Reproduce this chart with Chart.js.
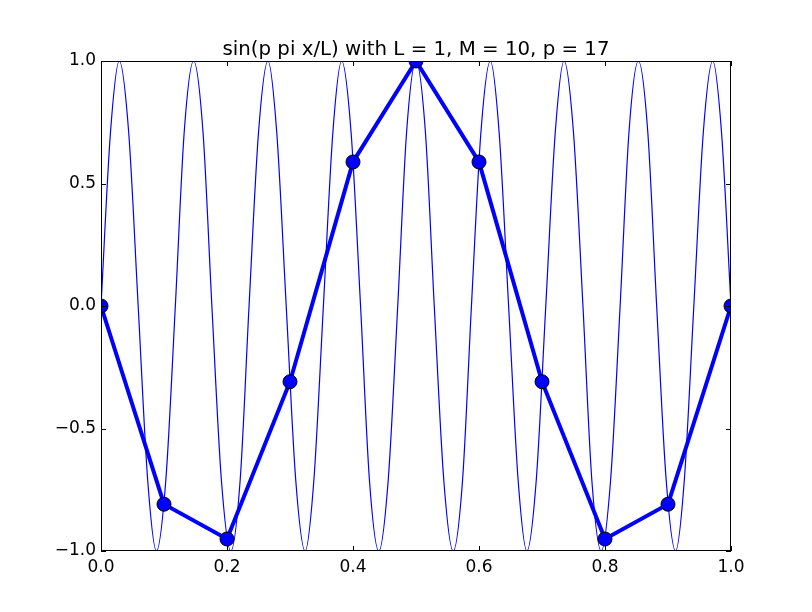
<!DOCTYPE html>
<html>
<head>
<meta charset="utf-8">
<script src="https://cdn.jsdelivr.net/npm/chart.js@4/dist/chart.umd.min.js"></script>
<style>
html,body{margin:0;padding:0;background:#fff;}
#c{display:block;}
</style>
</head>
<body>
<canvas id="c" width="812" height="612"></canvas>
<script>
const titleText = 'sin(p pi x/L) with L = 1, M = 10, p = 17';

// sampled points (M = 10)
const sampleX = [0.0, 0.1, 0.2, 0.3, 0.4, 0.5, 0.6, 0.7, 0.8, 0.9, 1.0];
const sampleY = [0.0, -0.809, -0.951, -0.309, 0.588, 1.0, 0.588, -0.309, -0.951, -0.809, 0.0];

// fine curve (zeros, peaks and half-way points)
const curveX = [0.000,0.015,0.029,0.044,0.059,0.074,0.088,0.103,0.118,0.132,0.147,0.162,0.176,0.191,0.206,0.221,0.235,0.250,0.265,0.279,0.294,0.309,0.324,0.338,0.353,0.368,0.382,0.397,0.412,0.426,0.441,0.456,0.471,0.485,0.500,0.515,0.529,0.544,0.559,0.574,0.588,0.603,0.618,0.632,0.647,0.662,0.676,0.691,0.706,0.721,0.735,0.750,0.765,0.779,0.794,0.809,0.824,0.838,0.853,0.868,0.882,0.897,0.912,0.926,0.941,0.956,0.971,0.985,1.000];
const curveY = [0,0.707,1,0.707,0,-0.707,-1,-0.707,
                0,0.707,1,0.707,0,-0.707,-1,-0.707,
                0,0.707,1,0.707,0,-0.707,-1,-0.707,
                0,0.707,1,0.707,0,-0.707,-1,-0.707,
                0,0.707,1,0.707,0,-0.707,-1,-0.707,
                0,0.707,1,0.707,0,-0.707,-1,-0.707,
                0,0.707,1,0.707,0,-0.707,-1,-0.707,
                0,0.707,1,0.707,0,-0.707,-1,-0.707,
                0,0.707,1,0.707,0];

const xTicks = [0.0, 0.2, 0.4, 0.6, 0.8, 1.0];
const yTicks = [-1.0, -0.5, 0.0, 0.5, 1.0];

const FONT = 'DejaVu Sans';
const fmt = v => Number(v).toFixed(1).replace('-', '\u2212');

const frameTicks = {
  id: 'frameTicks',
  afterDraw(chart) {
    const {ctx, chartArea: a, scales} = chart;
    ctx.save();
    ctx.strokeStyle = '#000';
    ctx.lineWidth = 1;
    ctx.strokeRect(a.left + 0.5, a.top + 0.5, a.right - a.left - 1, a.bottom - a.top - 1);
    const L = 5;
    ctx.beginPath();
    xTicks.forEach(v => {
      const px = Math.round(scales.x.getPixelForValue(v)) + 0.5;
      ctx.moveTo(px, a.bottom); ctx.lineTo(px, a.bottom - L);
      ctx.moveTo(px, a.top); ctx.lineTo(px, a.top + L);
    });
    yTicks.forEach(v => {
      const py = Math.round(scales.y.getPixelForValue(v)) + 0.5;
      ctx.moveTo(a.left, py); ctx.lineTo(a.left + L, py);
      ctx.moveTo(a.right, py); ctx.lineTo(a.right - L, py);
    });
    ctx.stroke();
    // title centred over the axes
    ctx.fillStyle = '#000';
    ctx.font = '19.8px "' + FONT + '"';
    ctx.textAlign = 'center';
    ctx.textBaseline = 'alphabetic';
    ctx.fillText(titleText, (a.left + a.right) / 2, 54.5);
    ctx.restore();
  }
};

new Chart(document.getElementById('c'), {
  type: 'line',
  data: {
    datasets: [
      {
        data: sampleX.map((x, i) => ({x, y: sampleY[i]})),
        borderColor: '#0000ff',
        borderWidth: 4,
        pointRadius: 7,
        pointBackgroundColor: '#0000ff',
        pointBorderColor: '#000000',
        pointBorderWidth: 1,
        tension: 0,
        clip: 0,
        order: 0
      },
      {
        data: curveX.map((x, i) => ({x, y: curveY[i]})),
        borderColor: '#0000ff',
        borderWidth: 1.2,
        pointRadius: 0,
        cubicInterpolationMode: 'monotone',
        clip: 0,
        order: 1
      }
    ]
  },
  options: {
    responsive: false,
    animation: false,
    devicePixelRatio: 1,
    layout: { padding: { left: 0, right: 81, top: 61, bottom: 0 } },
    plugins: {
      legend: { display: false },
      tooltip: { enabled: false },
      title: { display: false }
    },
    scales: {
      x: {
        type: 'linear',
        min: 0, max: 1,
        afterFit(s) { s.height = 61; },
        afterBuildTicks(s) { s.ticks = xTicks.map(v => ({value: v})); },
        grid: { display: false, drawTicks: false },
        border: { display: false },
        ticks: {
          color: '#000',
          padding: 6,
          maxRotation: 0,
          font: { family: FONT, size: 17 },
          callback: v => fmt(v)
        }
      },
      y: {
        type: 'linear',
        min: -1, max: 1,
        afterFit(s) { s.width = 101; },
        afterBuildTicks(s) { s.ticks = yTicks.map(v => ({value: v})); },
        grid: { display: false, drawTicks: false },
        border: { display: false },
        ticks: {
          color: '#000',
          padding: 5,
          font: { family: FONT, size: 17 },
          callback: v => fmt(v)
        }
      }
    }
  },
  plugins: [frameTicks]
});
</script>
</body>
</html>
